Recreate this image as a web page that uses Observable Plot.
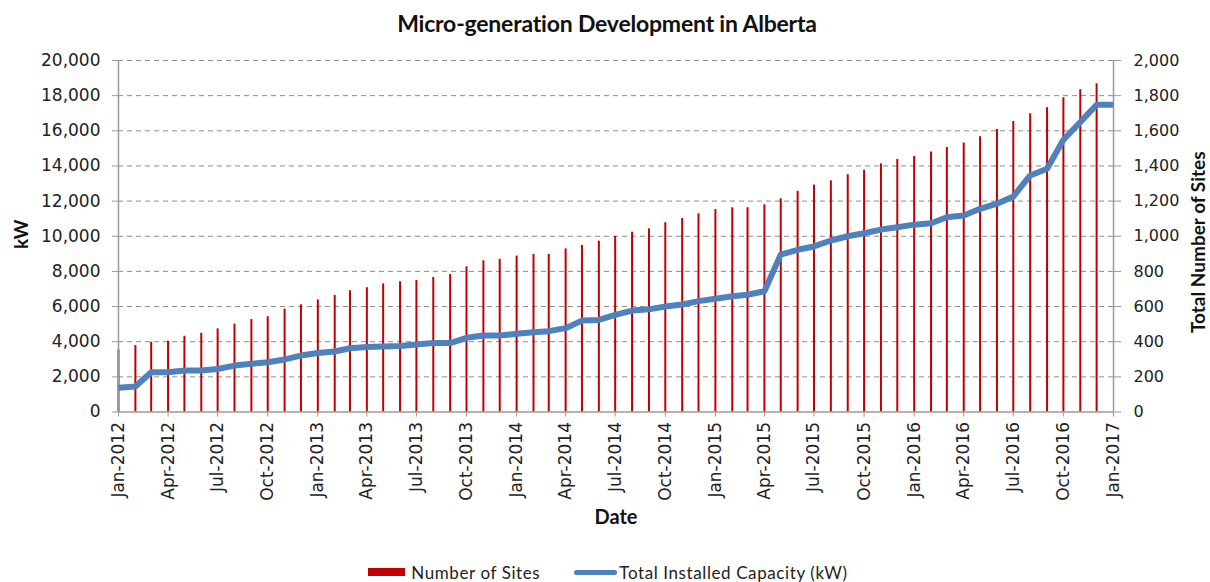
<!DOCTYPE html>
<html>
<head>
<meta charset="utf-8">
<script src="https://cdn.jsdelivr.net/npm/d3@7"></script>
<script src="https://cdn.jsdelivr.net/npm/@observablehq/plot@0.6"></script>
<style>
  html, body { margin: 0; padding: 0; background: #fff; }
  #title { height: 45px; line-height: 46px; text-align: center; font-family: Lato, "Open Sans", sans-serif; font-weight: bold; font-size: 23px; color: #111; padding-left: 4px; letter-spacing: -0.2px; }
  #legend { height: 32px; display: flex; align-items: center; justify-content: center; font-family: Lato, "Open Sans", sans-serif; font-size: 17px; color: #222; letter-spacing: 0.6px; padding-left: 6px; padding-top: 12px; box-sizing: border-box; }
  .sw-bar { width: 37px; height: 8px; background: #C00000; margin-right: 6px; }
  .sw-line { width: 43px; height: 5px; background: #4F81BD; border-radius: 3px; margin-left: 34px; margin-right: 2px; }
</style>
</head>
<body>
<div id="title">Micro-generation Development in Alberta</div>
<div id="chart"></div>
<div id="legend"><span class="sw-bar"></span><span>Number of Sites</span><span class="sw-line"></span><span>Total Installed Capacity (kW)</span></div>
<script>
// Number of sites at the start of each month, Jan-2012 .. Dec-2016
const sites = [
  354, 378, 397, 403, 431, 448, 473, 500, 526, 542, 585, 610,
  638, 663, 690, 707, 729, 741, 748, 765, 782, 826, 860, 869,
  887, 896, 896, 928, 947, 972, 999, 1023, 1042, 1077, 1101, 1128,
  1152, 1162, 1162, 1179, 1213, 1256, 1291, 1315, 1350, 1376, 1412, 1437,
  1454, 1480, 1505, 1531, 1566, 1607, 1653, 1697, 1731, 1788, 1833, 1867
];
// Total installed capacity (kW), Jan-2012 .. Jan-2017
const capacity = [
  1380, 1450, 2260, 2260, 2360, 2360, 2450, 2640, 2740, 2830, 2990, 3210,
  3360, 3440, 3630, 3700, 3720, 3750, 3840, 3930, 3920, 4220, 4350, 4350,
  4450, 4540, 4600, 4770, 5200, 5240, 5530, 5770, 5840, 6000, 6120, 6310,
  6440, 6590, 6670, 6870, 8960, 9230, 9420, 9760, 10000, 10170, 10380, 10510,
  10660, 10740, 11080, 11180, 11560, 11850, 12260, 13460, 13840, 15490, 16490, 17480,
  17480
];
const xTickLabels = [
  "Jan-2012","Apr-2012","Jul-2012","Oct-2012",
  "Jan-2013","Apr-2013","Jul-2013","Oct-2013",
  "Jan-2014","Apr-2014","Jul-2014","Oct-2014",
  "Jan-2015","Apr-2015","Jul-2015","Oct-2015",
  "Jan-2016","Apr-2016","Jul-2016","Oct-2016","Jan-2017"
];
const kwTicks = [0, 2000, 4000, 6000, 8000, 10000, 12000, 14000, 16000, 18000, 20000];
const siteTicks = [0, 200, 400, 600, 800, 1000, 1200, 1400, 1600, 1800, 2000];

const start = new Date(Date.UTC(2012, 0, 1));
const end = new Date(Date.UTC(2017, 0, 1));
const months = d3.utcMonth.range(start, d3.utcMonth.offset(end, 1));
const barData = sites.map((s, i) => ({date: months[i], sites: s}));
const lineData = capacity.map((v, i) => ({date: months[i], kw: v}));
const parseTick = d3.utcParse("%b-%Y");
const tickDates = xTickLabels.map(parseTick);

const ratio = 10; // kW-axis units per site-axis unit

const chart = Plot.plot({
  width: 1210,
  height: 505,
  marginTop: 15,
  marginBottom: 138.5,
  marginLeft: 118,
  marginRight: 97,
  style: {fontFamily: "'DejaVu Sans', sans-serif", fontSize: "17px", color: "#222", background: "#fff"},
  x: {type: "utc", domain: [start, end]},
  y: {domain: [0, 20000]},
  marks: [
    Plot.ruleY(kwTicks.filter(v => v > 0), {stroke: "#8c8c8c", strokeDasharray: "5,4", strokeWidth: 1}),
    Plot.ruleX(barData, {x: "date", y1: 0, y2: d => d.sites * ratio, stroke: "#C00000", strokeWidth: 2}),
    Plot.ruleY([0], {stroke: "#9a9a9a", strokeWidth: 1.5}),
    Plot.ruleX([start, end], {stroke: "#9a9a9a", strokeWidth: 1.5}),
    Plot.line(lineData, {x: "date", y: "kw", stroke: "#4F81BD", strokeWidth: 6, strokeLinejoin: "round", strokeLinecap: "butt"}),
    Plot.axisY({anchor: "left", ticks: kwTicks, tickFormat: d3.format(","), tickSize: 6, tickPadding: 12, label: null, stroke: "#999", fill: "#222", fontSize: 17}),
    Plot.axisY({anchor: "right", ticks: siteTicks.map(v => v * ratio), tickFormat: (d, i) => d3.format(",")(siteTicks[i]), tickSize: 7, tickPadding: 13, label: null, stroke: "#999", fill: "#222", fontSize: 16}),
    Plot.axisX({ticks: tickDates, tickFormat: (d, i) => xTickLabels[i], tickRotate: -90, tickSize: 5, tickPadding: 5, label: null, stroke: "#999", fill: "#222", fontSize: 17}),
    Plot.text(["kW"], {frameAnchor: "left", textAnchor: "middle", dx: -97, dy: -2, rotate: -90, fontWeight: "bold", fontSize: 19, fontFamily: "Lato, sans-serif", fill: "#111"}),
    Plot.text(["Total Number of Sites"], {frameAnchor: "right", textAnchor: "middle", dx: 85, dy: 6, rotate: -90, fontWeight: "bold", fontSize: 19, fontFamily: "Lato, sans-serif", fill: "#111"}),
    Plot.text(["Date"], {frameAnchor: "bottom", dy: 112, fontWeight: "bold", fontSize: 20, fontFamily: "Lato, sans-serif", fill: "#111"})
  ]
});
document.getElementById("chart").appendChild(chart);
</script>
</body>
</html>
